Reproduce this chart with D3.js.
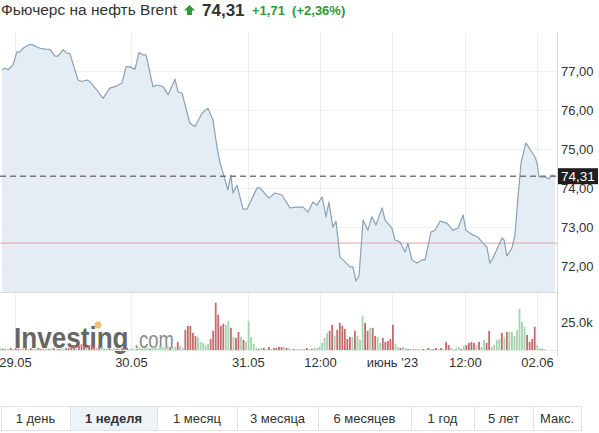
<!DOCTYPE html>
<html><head><meta charset="utf-8">
<script src="https://cdn.jsdelivr.net/npm/d3@7/dist/d3.min.js"></script>
<style>
html,body{margin:0;padding:0;background:#fff;}
svg{display:block;font-family:"Liberation Sans",Arial,sans-serif;}
</style></head>
<body>
<svg id="c" width="599" height="433"></svg>
<script>
// ---------- DATA ----------
const titleText = "Фьючерс на нефть Brent";
const lastPrice = 74.31;
const prevClose = 72.60;
const changeText = "+1,71";
const changePctText = "(+2,36%)";

// price path: bar index (x) and price (y)
const priceIdx = [0.8,2.0,3.2,5.1,6.7,7.9,9.1,11.8,13.0,15.8,17.8,19.7,21.7,22.9,24.9,26.5,27.6,30.8,32.4,34.4,35.5,38.3,40.7,43.4,46.2,48.2,49.8,51.3,53.3,54.9,56.5,57.7,60.4,62.0,64.4,66.4,69.1,70.3,71.9,75.0,77.0,79.8,82.1,84.1,85.7,86.9,88.1,90.0,91.2,92.0,93.6,96.0,97.6,101.5,102.7,106.2,108.6,111.4,114.5,117.3,119.7,121.6,123.6,125.2,127.2,128.8,129.9,131.5,132.7,134.3,136.3,138.2,139.4,140.6,141.8,143.4,145.3,146.9,148.5,150.9,152.1,154.8,156.0,158.0,160.0,161.1,162.7,164.7,166.7,167.9,170.2,171.8,173.8,176.5,178.9,180.9,182.9,184.0,186.8,188.8,190.8,192.3,193.5,194.7,198.3,199.1,200.2,202.2,203.4,204.6,205.8,207.7,211.3,212.1,212.9,215.2,216.8,218.0,219.2];
const priceVal = [77.03,77.07,77.03,77.15,77.49,77.49,77.58,77.68,77.66,77.58,77.56,77.55,77.38,77.38,77.54,77.45,77.45,76.77,76.73,76.77,76.73,76.51,76.30,76.56,76.62,76.69,77.11,77.11,77.04,77.47,77.41,77.41,76.60,76.64,76.60,76.39,76.79,76.47,76.43,75.66,75.58,75.92,76.05,75.75,75.06,74.65,74.39,73.96,74.34,73.88,74.08,73.47,73.47,74.01,74.01,73.75,73.88,73.83,73.50,73.52,73.52,73.39,73.65,73.57,73.78,73.27,73.65,73.01,73.16,72.24,72.12,71.99,71.99,71.63,71.76,73.19,72.93,73.27,73.06,73.50,73.19,72.98,72.68,72.63,72.37,72.60,72.17,72.09,72.17,72.17,72.88,72.93,73.16,73.11,72.93,72.98,73.32,72.93,72.81,72.75,72.60,72.50,72.09,72.22,72.73,72.68,72.27,72.47,72.81,73.78,74.65,75.16,74.80,74.65,74.29,74.29,74.24,74.34,74.31];

// volume per bar (thousands), bar index = position in array
const volumes = [
 1.5,1,1.5,1,2,1,1.5,1,1,1.5,2,1,1.5,1,1,2,1,1.5,1,1,1.5,2,1,1,1.5,1,2,1.5,
 3,4.5,2,4,5,3.5,2.5,4,5.5,3,2,4,2.5,1.5,
 1,1.5,1,2,1,1,1.5,1,2,1,1.5,1,1,2,1,1.5,2,1,2.5,3,2,3.5,2.5,3,4,2.5,2,3,
 7.2,3.6,1.8,18,21.5,21.5,15.3,12.6,11.7,7.2,6.3,4.5,5.4,9.9,17.1,42.3,31.5,21.6,23.4,22.5,26.1,19.8,11.7,10.8,16.2,11.7,9,7.2,26.1,11.7,5.4,
 1.8,0.9,1.8,1.8,0.9,2.7,0.9,1.8,1.8,2.7,2.7,2.7,1.8,1.8,0.9,0.9,0.9,0.5,0.9,0.9,1.8,0.9,0.9,1.8,1.8,
 2.7,6.3,10.8,15.3,17.1,22.5,12.6,18,24.3,21.6,18.9,9.9,11.7,11.7,17.1,12.6,9,30.6,24.3,17.1,19.8,19.8,12.6,11.7,6.3,10.8,7.2,8.1,9.9,22.5,5.4,2.7,1.8,2.7,
 1.8,0.9,0.9,0.5,0.9,0.9,0.5,0.9,0.9,1.8,0.9,0.9,1.8,0.9,1.8,0.9,
 7.2,4.5,1.8,0.9,1.8,2.7,0.9,3.6,4.5,6.3,7.2,6.3,4.5,7.2,2.7,9,6.3,17.1,2.7,4.5,9,9.9,15.3,11.7,16.2,16.2,16.2,12.6,18,36.9,25.2,20.7,13.5,7.2,9.9,20.7,4.5,1.8,0.9,0.9
];
// g = up bar, r = down bar
const volumeDir = ("grggrgrrggrgrggrrggrgrgrggrr" + "rrgrrrgrrrgrgg" + "grggrgrgrgggrgrggrgggggggrgg" +
  "rggrrrrrgggggrrrrrrggrgrrgrgggg" + "grgrgrgrrrrgrggrgrggrgrgg" +
  "ggggrrgrrrrrrgrgggrrgrrggrrrrrggrg" + "grgrgggrgrgrrgrg" +
  "rrggggrgrrrrgrggrrggggrgrgggggggrrrrggrg").split("");

const priceTicks = [72, 73, 74, 75, 76, 77];
const volumeTicks = [25];
const timeTickIdx = [5.9, 51.7, 97.9, 126.4, 154.8, 183.6, 212.1];
const timeTickLabels = ["29.05", "30.05", "31.05", "12:00", "июнь '23", "12:00", "02.06"];
const periodButtons = ["1 день", "1 неделя", "1 месяц", "3 месяца", "6 месяцев", "1 год", "5 лет", "Макс."];
const periodEdges = [1, 70, 157, 237, 318, 411, 474, 533, 581];
const selectedPeriod = 1;

// ---------- LAYOUT ----------
const svg = d3.select("#c");
const plotL = 0, plotR = 557, plotT = 33, plotB = 292, volBase = 350;
const fmt = v => d3.format(".2f")(v).replace(".", ",");

const x = d3.scaleLinear().domain([0, 220]).range([plotL, plotR]);
const y = d3.scaleLinear().domain([71.35, 77.97]).range([plotB, plotT]);
const yv = d3.scaleLinear().domain([0, 25]).range([volBase, 322]);

const g = svg.append("g");

// grid: horizontal
g.append("g").selectAll("line").data(priceTicks).join("line")
  .attr("x1", plotL).attr("x2", plotR)
  .attr("y1", d => Math.round(y(d)) + 0.5).attr("y2", d => Math.round(y(d)) + 0.5)
  .attr("stroke", "#eef2f5").attr("stroke-width", 1);

// area
const pts = priceIdx.map((d, i) => [d, priceVal[i]]);
g.append("path").datum(pts)
  .attr("d", d3.area().x(d => x(d[0])).y0(plotB).y1(d => y(d[1])))
  .attr("fill", "#e5edf4");

// vertical grid
g.append("g").selectAll("line").data(timeTickIdx).join("line")
  .attr("x1", d => Math.round(x(d)) + 0.5).attr("x2", d => Math.round(x(d)) + 0.5)
  .attr("y1", plotT).attr("y2", volBase)
  .attr("stroke", "#e6ebef").attr("stroke-opacity", 0.8).attr("stroke-width", 1);

// previous close line
g.append("line").attr("x1", plotL).attr("x2", plotR)
  .attr("y1", y(prevClose)).attr("y2", y(prevClose))
  .attr("stroke", "#e3b4b4").attr("stroke-width", 1.2);

// price line
g.append("path").datum(pts)
  .attr("d", d3.line().x(d => x(d[0])).y(d => y(d[1])))
  .attr("fill", "none").attr("stroke", "#8ba1b3").attr("stroke-width", 1.2)
  .attr("stroke-linejoin", "round");

// last price dashed line
g.append("line").attr("x1", plotL).attr("x2", plotR)
  .attr("y1", y(lastPrice)).attr("y2", y(lastPrice))
  .attr("stroke", "#75797d").attr("stroke-width", 1.4).attr("stroke-dasharray", "6,4");

// borders
g.append("line").attr("x1", plotL).attr("x2", plotR).attr("y1", plotB + 0.5).attr("y2", plotB + 0.5)
  .attr("stroke", "#d3dae0");
g.append("line").attr("x1", plotR + 0.5).attr("x2", plotR + 0.5).attr("y1", plotT).attr("y2", 356)
  .attr("stroke", "#d3dae0");

// logo watermark (behind bars), horizontally condensed via transform
const logo = g.append("g");
logo.append("text").attr("transform", "translate(14,348) scale(0.87,1)").text("Investing")
  .attr("font-size", 30).attr("font-weight", "bold").attr("fill", "#666");
logo.append("text").attr("transform", "translate(134,348) scale(0.8,1)").text(".com")
  .attr("font-size", 23).attr("fill", "#8a8a8a");
logo.append("circle").attr("cx", 98).attr("cy", 325).attr("r", 3.4).attr("fill", "#f2b25c").attr("opacity", 0.85);

// volume bars
g.append("g").selectAll("rect").data(volumes).join("rect")
  .attr("x", (d, i) => x(i) - 0.4)
  .attr("width", 1.8)
  .attr("y", d => yv(d))
  .attr("height", d => volBase - yv(d))
  .attr("fill", (d, i) => volumeDir[i] === "g" ? "#a3d4ad" : "#c46a6c");

// volume baseline
g.append("line").attr("x1", plotL).attr("x2", plotR).attr("y1", volBase + 0.5).attr("y2", volBase + 0.5)
  .attr("stroke", "#e3e8ec");

// y axis labels (price)
const axisY = d3.axisRight(y).tickValues(priceTicks).tickFormat(fmt).tickSize(0).tickPadding(3);
const ay = svg.append("g").attr("transform", `translate(${plotR + 1},0)`).call(axisY);
ay.select(".domain").remove();
ay.selectAll("text").attr("font-size", 13).attr("font-family", "Liberation Sans, Arial").attr("fill", "#333");

// volume axis label
const axisV = d3.axisRight(yv).tickValues(volumeTicks).tickFormat(d => d3.format(".1f")(d) + "k").tickSize(0).tickPadding(3);
const av = svg.append("g").attr("transform", `translate(${plotR + 1},0)`).call(axisV);
av.select(".domain").remove();
av.selectAll("text").attr("font-size", 13).attr("font-family", "Liberation Sans, Arial").attr("fill", "#333");

// last price tag
const tagY = y(lastPrice);
svg.append("rect").attr("x", plotR + 1).attr("y", tagY - 8).attr("width", 40).attr("height", 16).attr("fill", "#1e1e1e");
svg.append("text").attr("x", plotR + 21).attr("y", tagY + 5).attr("text-anchor", "middle")
  .attr("font-size", 13.5).attr("fill", "#fff").text(fmt(lastPrice));

// x axis labels
const axisX = d3.axisBottom(x).tickValues(timeTickIdx).tickFormat((d, i) => timeTickLabels[i]).tickSize(0).tickPadding(0);
const ax = svg.append("g").attr("transform", `translate(0,357)`).call(axisX);
ax.select(".domain").remove();
ax.selectAll("text").attr("font-size", 13).attr("font-family", "Liberation Sans, Arial").attr("fill", "#333")
  .attr("dy", "0.8em");

// header
svg.append("text").attr("x", 1).attr("y", 15).attr("font-size", 15.5).attr("fill", "#333").text(titleText);
svg.append("path").attr("d", "M189.5,5 L195,10.5 L192,10.5 L192,15 L187,15 L187,10.5 L184,10.5 Z").attr("fill", "#2f9a3a");
svg.append("text").attr("x", 202).attr("y", 15.5).attr("font-size", 17).attr("font-weight", "bold").attr("fill", "#333").text(fmt(lastPrice));
svg.append("text").attr("x", 252).attr("y", 15).attr("font-size", 13).attr("font-weight", "bold").attr("fill", "#2f9a3a")
  .text(changeText + "  " + changePctText).attr("xml:space", "preserve");

// period buttons
const bt = svg.append("g");
const bw = periodButtons.map((d, i) => ({ label: d, x0: periodEdges[i], x1: periodEdges[i + 1], i }));
bt.selectAll("rect").data(bw).join("rect")
  .attr("x", d => d.x0 + 0.5).attr("y", 406.5).attr("width", d => d.x1 - d.x0).attr("height", 24)
  .attr("fill", d => d.i === selectedPeriod ? "#eef3f8" : "#fff").attr("stroke", "#dde3e8");
bt.selectAll("text").data(bw).join("text")
  .attr("x", d => (d.x0 + d.x1) / 2).attr("y", 423).attr("text-anchor", "middle")
  .attr("font-size", 13).attr("fill", "#333").attr("font-weight", d => d.i === selectedPeriod ? "bold" : "normal")
  .text(d => d.label);
</script>
</body></html>
